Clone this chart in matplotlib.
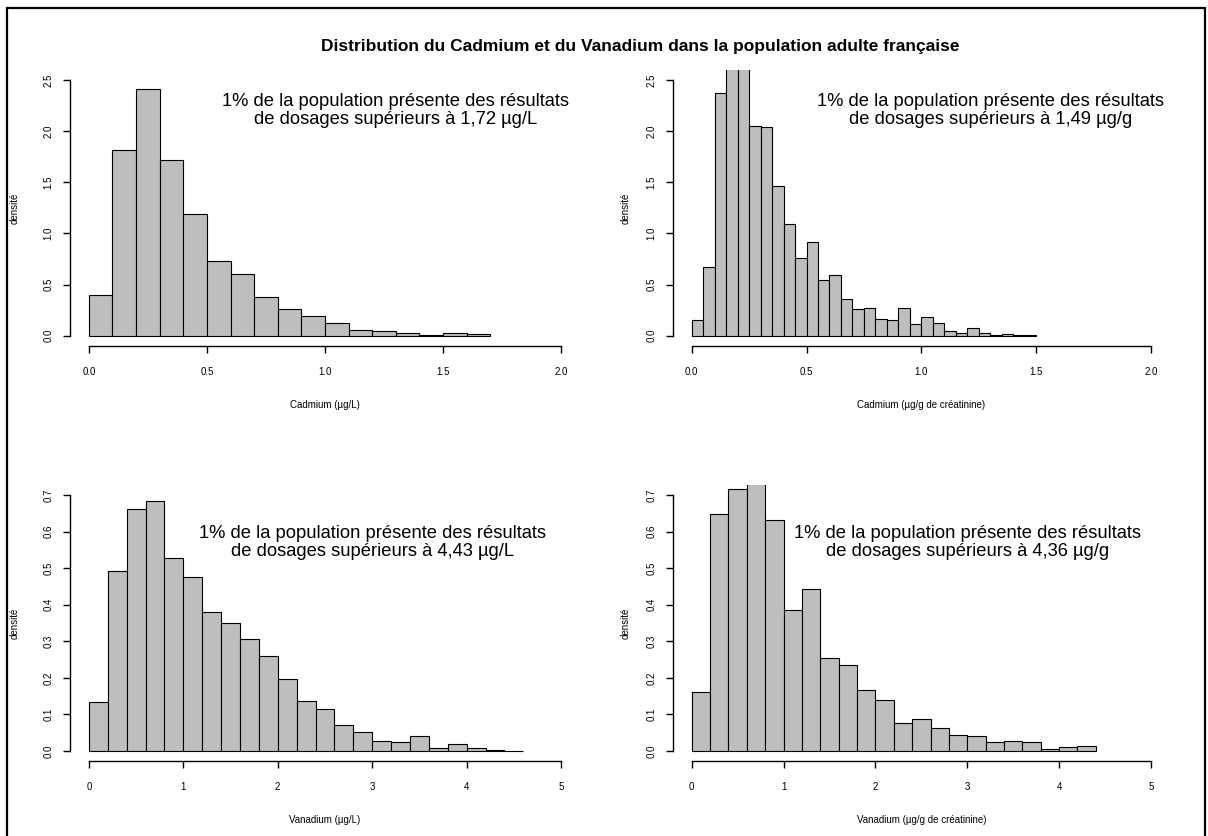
import numpy as np
import matplotlib.pyplot as plt
from matplotlib.patches import Rectangle

plt.rcParams['font.family'] = ['Liberation Sans', 'DejaVu Sans']

titre = "Distribution du Cadmium et du Vanadium dans la population adulte française"

# densités lues sur les histogrammes
# Cadmium (µg/L), classes de 0.1 à partir de 0
cd_l = [0.40, 1.82, 2.41, 1.72, 1.19, 0.73, 0.60, 0.38, 0.26, 0.19, 0.12,
        0.06, 0.046, 0.03, 0.01, 0.03, 0.02]
# Cadmium (µg/g de créatinine), classes de 0.05
cd_g = [0.15, 0.67, 2.37, 2.75, 2.70, 2.05, 2.04, 1.46, 1.095, 0.76, 0.92,
        0.54, 0.59, 0.36, 0.26, 0.27, 0.16, 0.15, 0.27, 0.11, 0.18, 0.12,
        0.05, 0.03, 0.08, 0.03, 0.005, 0.02, 0.005, 0.01]
# Vanadium (µg/L), classes de 0.2
v_l = [0.134, 0.492, 0.662, 0.685, 0.528, 0.475, 0.381, 0.351, 0.306, 0.26,
       0.198, 0.136, 0.114, 0.07, 0.051, 0.028, 0.025, 0.04, 0.007, 0.02,
       0.007, 0.003, 0.001]
# Vanadium (µg/g de créatinine), classes de 0.2
v_g = [0.16, 0.649, 0.716, 0.78, 0.631, 0.386, 0.444, 0.255, 0.236, 0.168,
       0.14, 0.077, 0.088, 0.062, 0.044, 0.042, 0.025, 0.028, 0.025, 0.006,
       0.01, 0.013]

largeurs = [0.1, 0.05, 0.2, 0.2]
series = [cd_l, cd_g, v_l, v_g]
xlabels = ['Cadmium (µg/L)', 'Cadmium (µg/g de créatinine)',
           'Vanadium (µg/L)', 'Vanadium (µg/g de créatinine)']
seuils = ['1,72 µg/L', '1,49 µg/g', '4,43 µg/L', '4,36 µg/g']

cd_xticks = [0, 0.5, 1, 1.5, 2]
cd_yticks = [0, 0.5, 1, 1.5, 2, 2.5]
v_xticks = [0, 1, 2, 3, 4, 5]
v_yticks = [0, 0.1, 0.2, 0.3, 0.4, 0.5, 0.6, 0.7]

fig = plt.figure(figsize=(12.08, 8.36), dpi=100)

positions = [
    [0.0579, 0.5862, 0.4222, 0.3303],
    [0.5574, 0.5862, 0.4106, 0.3303],
    [0.0579, 0.0895, 0.4222, 0.3306],
    [0.5574, 0.0895, 0.4106, 0.3306],
]

for i in range(4):
    ax = fig.add_axes(positions[i])
    h = series[i]
    w = largeurs[i]
    bords = np.arange(len(h)) * w
    ax.bar(bords, h, width=w, align='edge', color='#bebebe',
           edgecolor='black', linewidth=0.8)

    if i < 2:
        xt, yt = cd_xticks, cd_yticks
        ax.set_xlim(-0.08, 2.08)
        ax.set_ylim(-0.1, 2.6)
        xlab = ['%.1f' % v for v in xt]
        tx, ty = 1.3, 2.2
    else:
        xt, yt = v_xticks, v_yticks
        ax.set_xlim(-0.2, 5.2)
        ax.set_ylim(-0.028, 0.728)
        xlab = ['%d' % v for v in xt]
        tx, ty = 3.0, 0.57
    ylab = ['%.1f' % v for v in yt]

    ax.set_xticks(xt)
    ax.set_xticklabels(xlab)
    ax.set_yticks(yt)
    ax.set_yticklabels(ylab, rotation=90, va='center')

    for s in ['top', 'right']:
        ax.spines[s].set_visible(False)
    ax.spines['left'].set_bounds(yt[0], yt[-1])
    ax.spines['bottom'].set_bounds(xt[0], xt[-1])
    ax.spines['left'].set_linewidth(1.0)
    ax.spines['bottom'].set_linewidth(1.0)
    ax.tick_params(axis='x', length=5, width=1.0, labelsize=7, pad=10)
    ax.tick_params(axis='y', length=5, width=1.0, labelsize=7, pad=7)

    ax.set_xlabel(xlabels[i], fontsize=7)
    ax.xaxis.set_label_coords(0.5, -0.195)
    ax.set_ylabel('densité', fontsize=7)
    lx = -50 / 510 if i % 2 == 0 else -43 / 496
    ax.yaxis.set_label_coords(lx, 0.5)

    ax.text(tx, ty, "1% de la population présente des résultats\n"
            "de dosages supérieurs à " + seuils[i],
            ha='center', va='center', fontsize=13.2, linespacing=1.1)

fig.text(640 / 1208, 1 - 47 / 836, titre, ha='center', va='center',
         fontweight='bold', fontsize=12.5)

fig.add_artist(Rectangle((7 / 1208, -0.05), (1205 - 7) / 1208,
                         1.05 - 8 / 836, transform=fig.transFigure,
                         fill=False, edgecolor='black', linewidth=1.6))

fig.savefig('out.png', dpi=100)
